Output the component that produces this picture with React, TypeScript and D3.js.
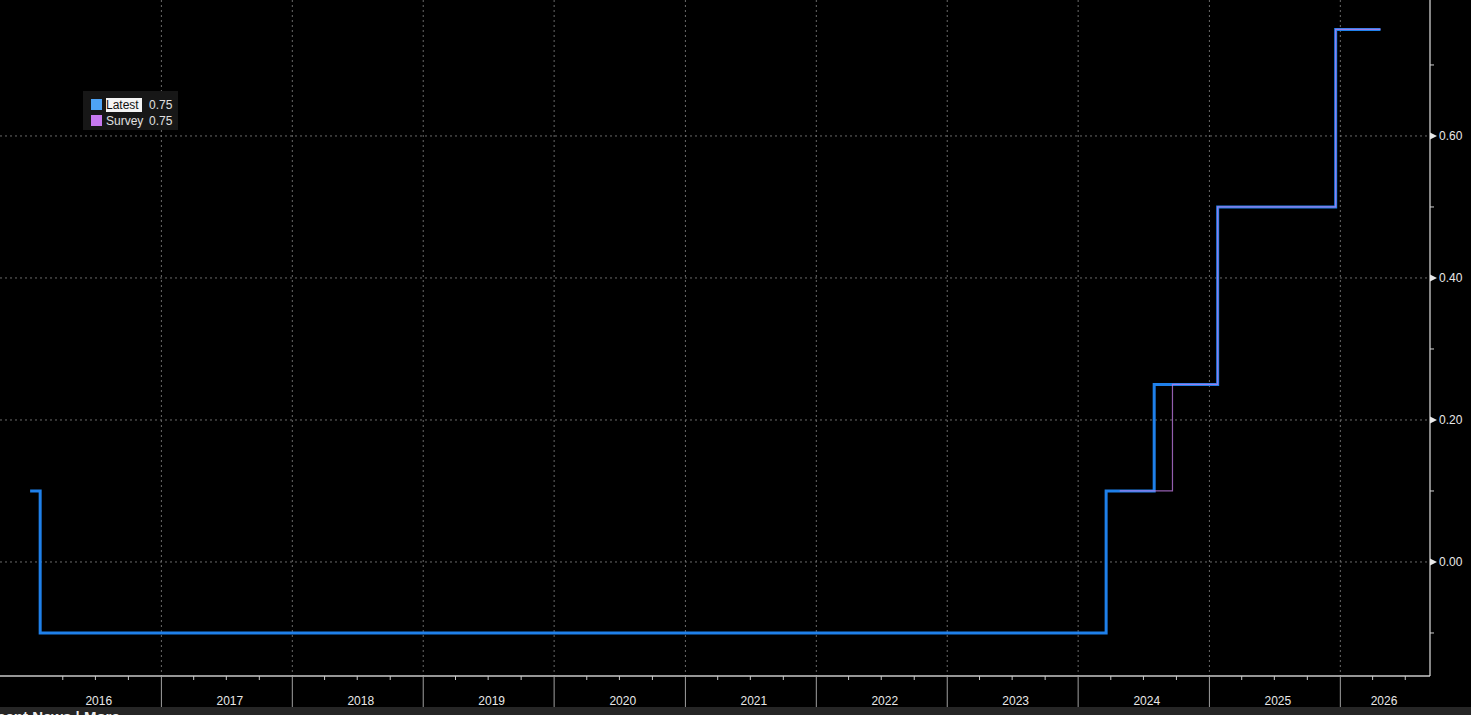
import React, { useEffect, useRef } from 'react';
import * as d3 from 'd3';

// Policy rate steps (date the level begins, level)
const latestDates = ['2016-01-01', '2016-01-29', '2024-03-19', '2024-07-31', '2025-01-24', '2025-12-19', '2026-04-23'];
const latestValues = [0.1, -0.1, 0.1, 0.25, 0.5, 0.75, 0.75];

const surveyDates = ['2024-04-26', '2024-09-20', '2025-01-24', '2025-12-19', '2026-04-23'];
const surveyValues = [0.1, 0.25, 0.5, 0.75, 0.75];

const yearLabels = ['2016', '2017', '2018', '2019', '2020', '2021', '2022', '2023', '2024', '2025', '2026'];
const majorYTicks = [0.0, 0.2, 0.4, 0.6];
const minorYTicks = [-0.1, 0.1, 0.3, 0.5, 0.7];

const legendItems = ['Latest', 'Survey'];
const legendValues = ['0.75', '0.75'];

const W = 1471;
const H = 715;
const FONT = '"Liberation Sans", Arial, sans-serif';

const App: React.FC = () => {
  const svgRef = useRef<SVGSVGElement>(null);

  useEffect(() => {
    if (!svgRef.current) return;
    const svg = d3.select(svgRef.current);
    svg.selectAll('*').remove();

    const plotRight = 1430;
    const plotBottom = 676;

    const x = d3.scaleTime()
      .domain([new Date(2015, 9, 9), new Date(2026, 8, 8)])
      .range([0, plotRight]);
    const y = d3.scaleLinear()
      .domain([-0.1606, 0.7915])
      .range([plotBottom, 0]);

    svg.append('rect').attr('width', W).attr('height', H).attr('fill', '#000');

    // Grid
    const yearStarts = d3.range(2017, 2027).map(yr => new Date(yr, 0, 1));
    svg.append('g').selectAll('line').data(yearStarts).enter().append('line')
      .attr('x1', d => x(d)).attr('x2', d => x(d))
      .attr('y1', 0).attr('y2', plotBottom)
      .attr('stroke', '#6a6a6a').attr('stroke-width', 1)
      .attr('stroke-dasharray', '2,3');
    svg.append('g').selectAll('line').data(majorYTicks).enter().append('line')
      .attr('x1', 0).attr('x2', plotRight)
      .attr('y1', d => y(d)).attr('y2', d => y(d))
      .attr('stroke', '#6a6a6a').attr('stroke-width', 1)
      .attr('stroke-dasharray', '2,3');

    // Series
    const parse = d3.timeParse('%Y-%m-%d');
    const latest = latestDates.map((d, i) => ({ date: parse(d)!, v: latestValues[i] }));
    const survey = surveyDates.map((d, i) => ({ date: parse(d)!, v: surveyValues[i] }));
    const line = d3.line<{ date: Date; v: number }>()
      .x(d => x(d.date))
      .y(d => y(d.v))
      .curve(d3.curveStepAfter);

    svg.append('path').attr('d', line(latest))
      .attr('fill', 'none').attr('stroke', '#1f80ea').attr('stroke-width', 3);
    svg.append('path').attr('d', line(survey))
      .attr('fill', 'none').attr('stroke', '#c47ee8').attr('stroke-width', 1.2)
      .attr('stroke-opacity', 0.75);

    // Bottom axis
    svg.append('line').attr('x1', 0).attr('x2', plotRight)
      .attr('y1', plotBottom).attr('y2', plotBottom)
      .attr('stroke', '#c8c8c8').attr('stroke-width', 1.5);
    svg.append('g').selectAll('line').data(yearStarts).enter().append('line')
      .attr('x1', d => x(d)).attr('x2', d => x(d))
      .attr('y1', plotBottom).attr('y2', 707)
      .attr('stroke', '#a0a0a0').attr('stroke-width', 1);
    const quarters = d3.timeMonth.every(3)!.range(new Date(2015, 9, 2), new Date(2026, 8, 8))
      .filter(d => d.getMonth() !== 0);
    svg.append('g').selectAll('line').data(quarters).enter().append('line')
      .attr('x1', d => x(d)).attr('x2', d => x(d))
      .attr('y1', plotBottom).attr('y2', plotBottom + 4)
      .attr('stroke', '#c8c8c8').attr('stroke-width', 1);
    svg.append('g').selectAll('text').data(yearLabels).enter().append('text')
      .attr('x', d => {
        const yr = +d;
        const a = Math.max(0, x(new Date(yr, 0, 1)));
        const b = Math.min(plotRight, x(new Date(yr + 1, 0, 1)));
        return yr === 2026 ? 1384 : (a + b) / 2 + 3;
      })
      .attr('y', 705)
      .attr('text-anchor', 'middle')
      .attr('fill', '#e8e8e8')
      .style('font-family', FONT)
      .style('font-size', '12px')
      .text(d => d);

    // Right axis
    svg.append('line').attr('x1', plotRight).attr('x2', plotRight)
      .attr('y1', 0).attr('y2', plotBottom)
      .attr('stroke', '#e0e0e0').attr('stroke-width', 1.2);
    svg.append('g').selectAll('line').data(minorYTicks).enter().append('line')
      .attr('x1', plotRight).attr('x2', plotRight + 4)
      .attr('y1', d => y(d)).attr('y2', d => y(d))
      .attr('stroke', '#d0d0d0').attr('stroke-width', 1);
    svg.append('g').selectAll('path').data(majorYTicks).enter().append('path')
      .attr('d', d => `M${plotRight},${y(d) - 3.5}L${plotRight + 7},${y(d)}L${plotRight},${y(d) + 3.5}Z`)
      .attr('fill', '#e8e8e8');
    svg.append('g').selectAll('text').data(majorYTicks).enter().append('text')
      .attr('x', 1439)
      .attr('y', d => y(d) + 4.5)
      .attr('fill', '#e8e8e8')
      .style('font-family', FONT)
      .style('font-size', '12px')
      .text(d => d3.format('.2f')(d));

    // Legend
    const lg = svg.append('g');
    lg.append('rect').attr('x', 83).attr('y', 91).attr('width', 95).attr('height', 39)
      .attr('fill', '#171717');
    const swatches = ['#4ea3f5', '#c779f0'];
    legendItems.forEach((name, i) => {
      const yy = 99 + i * 16;
      lg.append('rect').attr('x', 91).attr('y', yy).attr('width', 11).attr('height', 11)
        .attr('fill', swatches[i]);
      if (i === 0) {
        lg.append('rect').attr('x', 106).attr('y', yy - 1).attr('width', 36).attr('height', 14)
          .attr('fill', '#f4f4f4');
      }
      lg.append('text').attr('x', 106).attr('y', yy + 10)
        .attr('fill', i === 0 ? '#111' : '#e0e0e0')
        .style('font-family', FONT).style('font-size', '12px')
        .text(name);
      lg.append('text').attr('x', 149).attr('y', yy + 10)
        .attr('fill', '#e0e0e0')
        .style('font-family', FONT).style('font-size', '12px')
        .text(legendValues[i]);
    });

    // Bottom strip (cut off)
    svg.append('rect').attr('x', 0).attr('y', 707).attr('width', W).attr('height', 8)
      .attr('fill', '#262626');
    svg.append('text').attr('x', -22).attr('y', 722)
      .attr('fill', '#f0f0f0')
      .style('font-family', FONT).style('font-size', '15px').style('font-weight', '700')
      .text('Recent News | More »');
  }, []);

  return (
    <svg
      ref={svgRef}
      width={W}
      height={H}
      style={{ position: 'fixed', left: 0, top: 0, display: 'block', background: '#000' }}
    />
  );
};

export default App;
